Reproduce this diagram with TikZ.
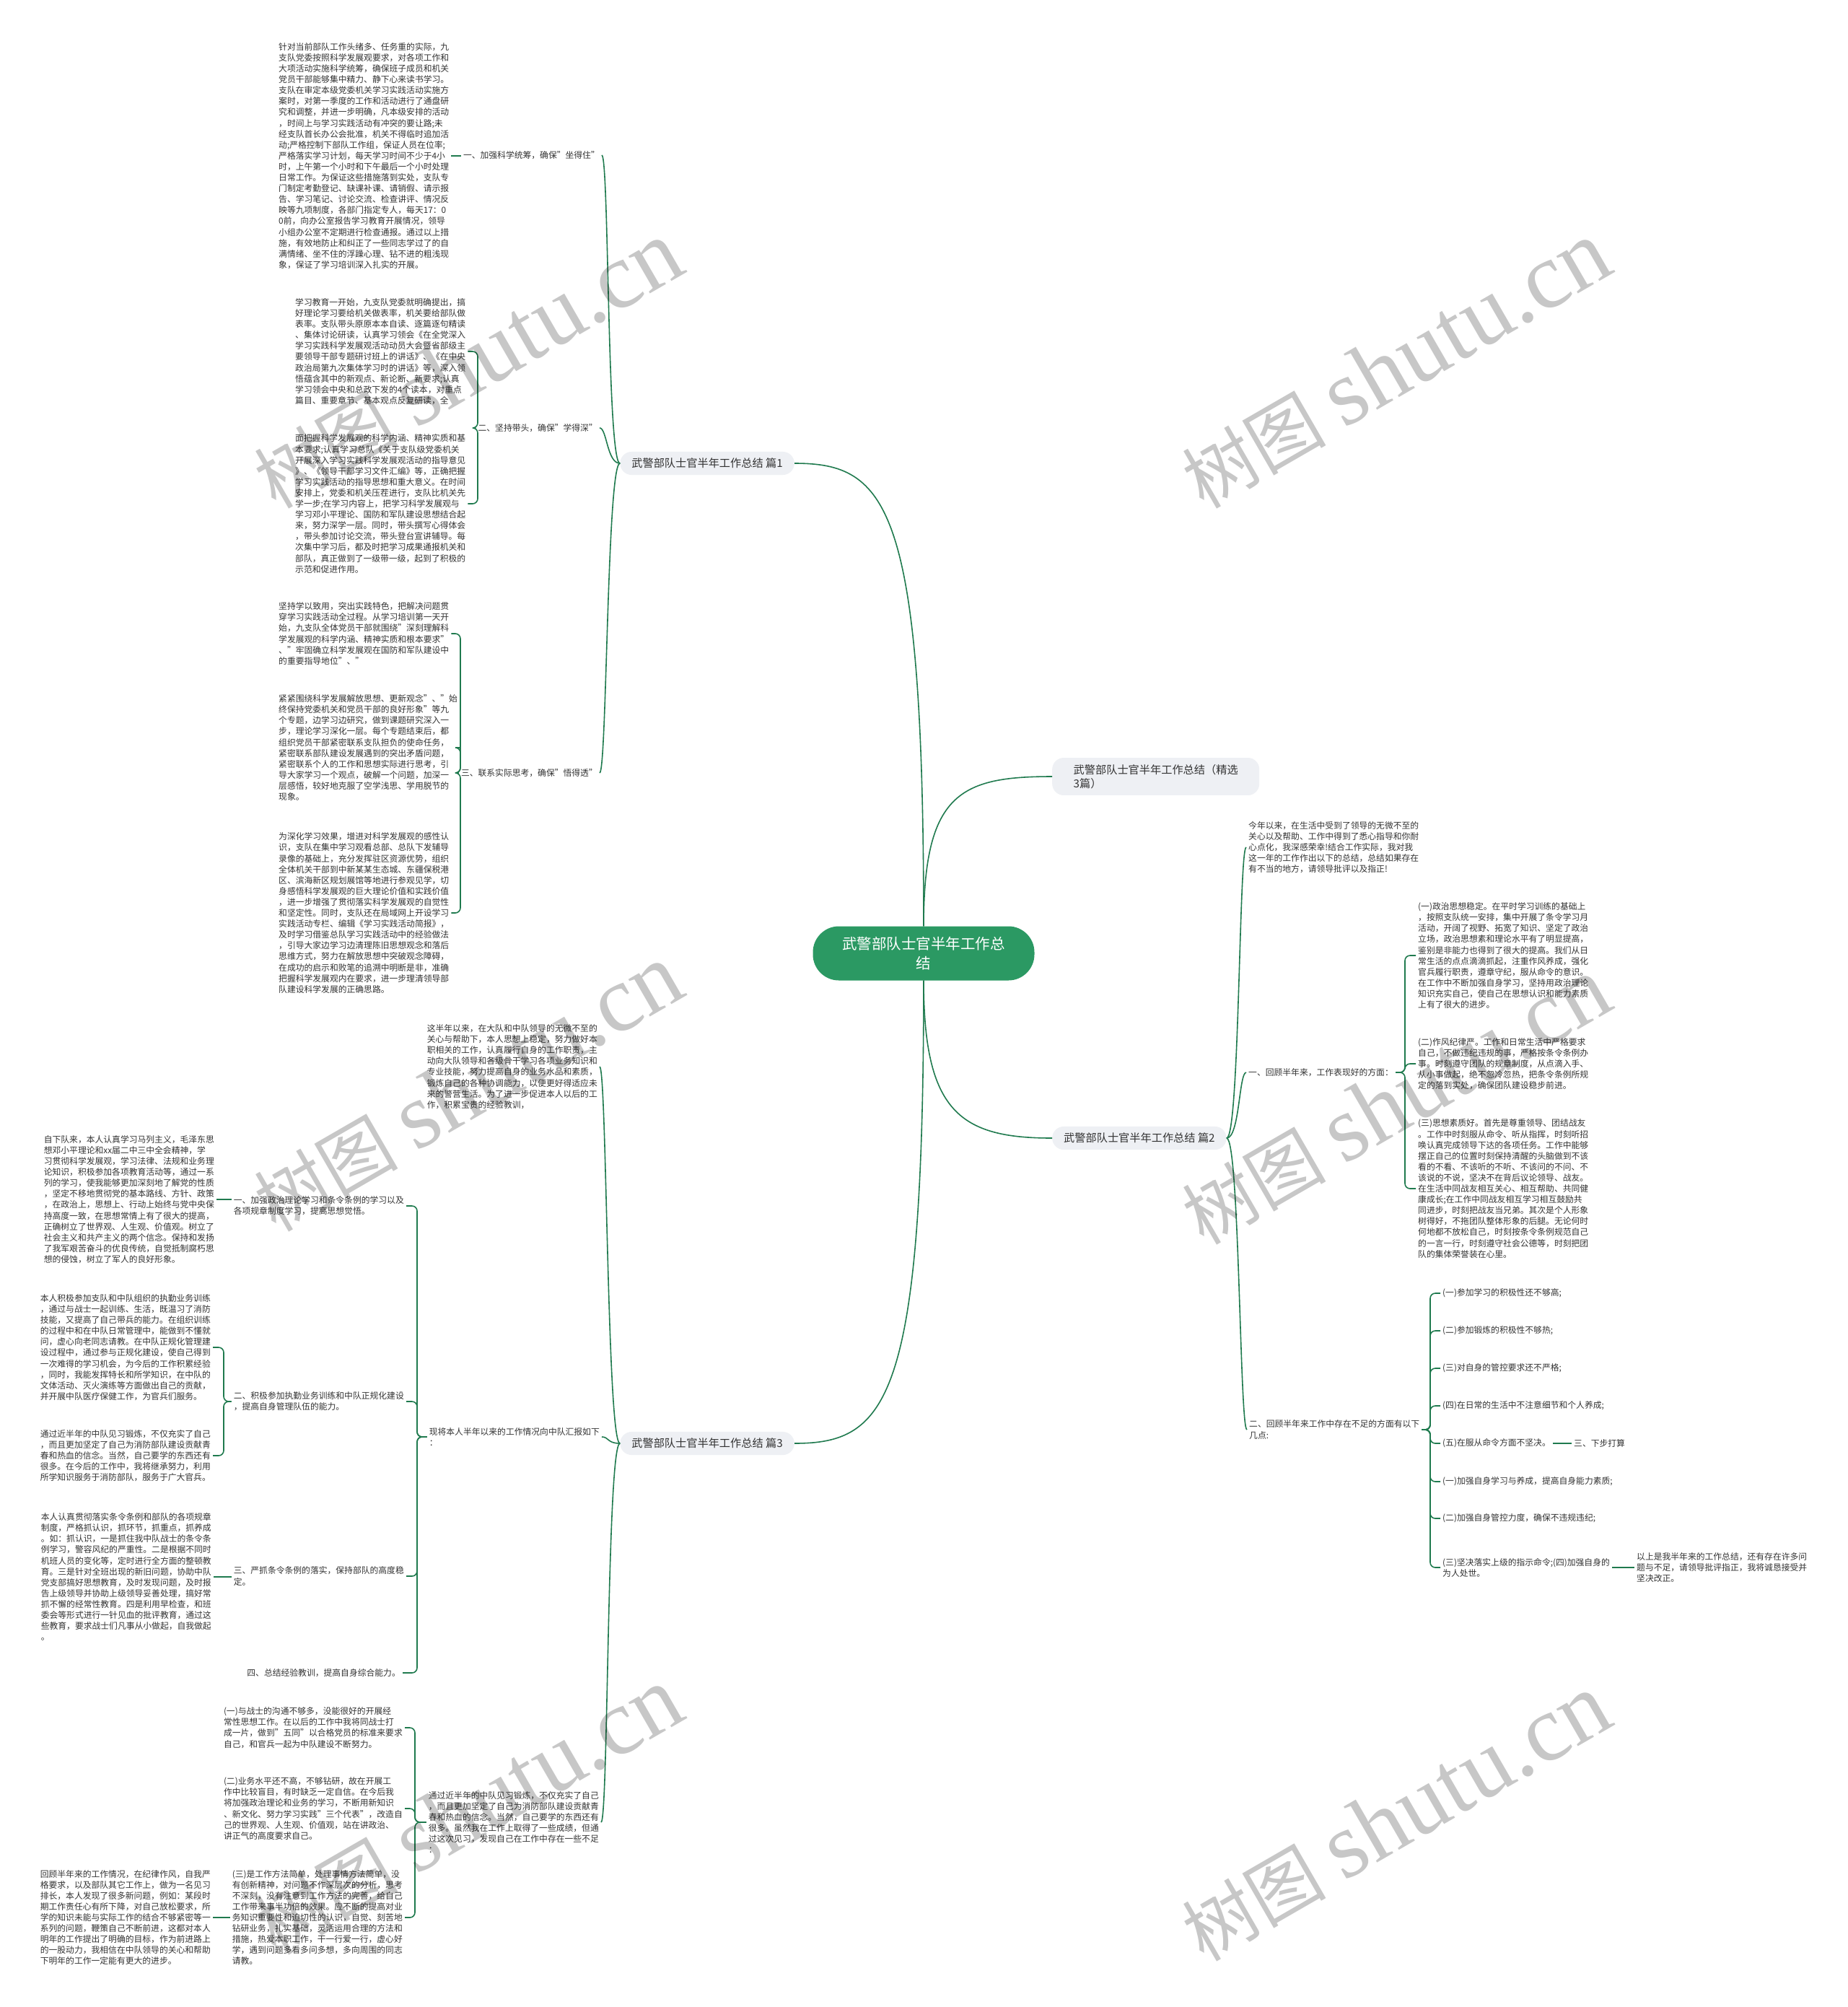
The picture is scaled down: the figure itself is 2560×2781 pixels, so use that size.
\documentclass[tikz,border=0pt]{standalone}
\usepackage{fontspec}
\setmainfont{Noto Sans CJK SC}
\newfontfamily\wmlatin{Liberation Serif}
\definecolor{lc}{HTML}{1F7A4E}
\definecolor{rootg}{HTML}{2B9963}
\definecolor{bfill}{HTML}{EEF0F4}
\definecolor{tc}{HTML}{333333}
\tikzset{
 txt/.style={inner sep=3pt, align=left, text=tc, font=\fontsize{11.8}{15.1}\selectfont},
 branch/.style={fill=bfill, rounded corners=16pt, inner xsep=16pt, inner ysep=9pt, align=left, text=tc, font=\fontsize{15.2}{19.5}\selectfont},
 rootnode/.style={fill=rootg, text=white, rounded corners=36pt, minimum width=307pt, minimum height=75pt, align=center, font=\fontsize{20.5}{27}\selectfont},
 conn/.style={draw=lc, line width=1.6pt},
 brk/.style={conn, rounded corners=7pt},
 wm/.style={rotate=30, text=black, text opacity=0.22, inner sep=0pt}
}
\newcommand{\wmtext}{{\fontsize{100}{100}\selectfont 树图}\hspace{24pt}{\wmlatin\fontsize{130}{130}\selectfont shutu.cn}}
\begin{document}
\begin{tikzpicture}[x=1pt,y=-1pt]
\fill[white] (0,0) rectangle (2560,2781);
\useasboundingbox (0,0) rectangle (2560,2781);

% root and main branches
\node[rootnode] (root) at (1280,1321) {武警部队士官半年工作总\\结};
\node[branch, anchor=west, minimum width=287pt] (jx) at (1458,1076) {武警部队士官半年工作总结（精选\\3篇）};
\node[branch, anchor=west] (p2) at (1458,1577) {武警部队士官半年工作总结 篇2};
\node[branch, anchor=east] (p1) at (1101,642) {武警部队士官半年工作总结 篇1};
\node[branch, anchor=east] (p3) at (1101,2000) {武警部队士官半年工作总结 篇3};

\draw[conn] (root.north) .. controls (1280,1100) and (1330,1076) .. (jx.west);
\draw[conn] (root.south) .. controls (1280,1540) and (1330,1577) .. (p2.west);
\draw[conn] (root.north) .. controls (1280,700) and (1230,642) .. (p1.east);
\draw[conn] (root.south) .. controls (1280,1940) and (1230,2000) .. (p3.east);

% ---------- 篇1 ----------
\node[txt, anchor=west] (a1) at (383,216) {针对当前部队工作头绪多、任务重的实际，九\\支队党委按照科学发展观要求，对各项工作和\\大项活动实施科学统筹，确保班子成员和机关\\党员干部能够集中精力、静下心来读书学习。\\支队在审定本级党委机关学习实践活动实施方\\案时，对第一季度的工作和活动进行了通盘研\\究和调整，并进一步明确，凡本级安排的活动\\，时间上与学习实践活动有冲突的要让路;未\\经支队首长办公会批准，机关不得临时追加活\\动;严格控制下部队工作组，保证人员在位率;\\严格落实学习计划，每天学习时间不少于4小\\时，上午第一个小时和下午最后一个小时处理\\日常工作。为保证这些措施落到实处，支队专\\门制定考勤登记、缺课补课、请销假、请示报\\告、学习笔记、讨论交流、检查讲评、情况反\\映等九项制度，各部门指定专人，每天17：0\\0前，向办公室报告学习教育开展情况，领导\\小组办公室不定期进行检查通报。通过以上措\\施，有效地防止和纠正了一些同志学过了的自\\满情绪、坐不住的浮躁心理、钻不进的粗浅现\\象，保证了学习培训深入扎实的开展。};
\node[txt, anchor=east] (l1) at (834,215) {一、加强科学统筹，确保"坐得住"};

\node[txt, anchor=west] (a2a) at (406,487) {学习教育一开始，九支队党委就明确提出，搞\\好理论学习要给机关做表率，机关要给部队做\\表率。支队带头原原本本自读、逐篇逐句精读\\、集体讨论研读，认真学习领会《在全党深入\\学习实践科学发展观活动动员大会暨省部级主\\要领导干部专题研讨班上的讲话》、《在中央\\政治局第九次集体学习时的讲话》等，深入领\\悟蕴含其中的新观点、新论断、新要求;认真\\学习领会中央和总政下发的4个读本，对重点\\篇目、重要章节、基本观点反复研读，全};
\node[txt, anchor=west] (a2b) at (406,698) {面把握科学发展观的科学内涵、精神实质和基\\本要求;认真学习总队《关于支队级党委机关\\开展深入学习实践科学发展观活动的指导意见\\》、《领导干部学习文件汇编》等，正确把握\\学习实践活动的指导思想和重大意义。在时间\\安排上，党委和机关压茬进行，支队比机关先\\学一步;在学习内容上，把学习科学发展观与\\学习邓小平理论、国防和军队建设思想结合起\\来，努力深学一层。同时，带头撰写心得体会\\，带头参加讨论交流，带头登台宣讲辅导。每\\次集中学习后，都及时把学习成果通报机关和\\部队，真正做到了一级带一级，起到了积极的\\示范和促进作用。};
\node[txt, anchor=east] (l2) at (831,593) {二、坚持带头，确保"学得深"};

\node[txt, anchor=west] (a3a) at (383,878) {坚持学以致用，突出实践特色，把解决问题贯\\穿学习实践活动全过程。从学习培训第一天开\\始，九支队全体党员干部就围绕"深刻理解科\\学发展观的科学内涵、精神实质和根本要求"\\、"牢固确立科学发展观在国防和军队建设中\\的重要指导地位"、"};
\node[txt, anchor=west] (a3b) at (383,1036) {紧紧围绕科学发展解放思想、更新观念"、"始\\终保持党委机关和党员干部的良好形象"等九\\个专题，边学习边研究，做到课题研究深入一\\步，理论学习深化一层。每个专题结束后，都\\组织党员干部紧密联系支队担负的使命任务，\\紧密联系部队建设发展遇到的突出矛盾问题，\\紧密联系个人的工作和思想实际进行思考，引\\导大家学习一个观点，破解一个问题，加深一\\层感悟，较好地克服了空学浅思、学用脱节的\\现象。};
\node[txt, anchor=west] (a3c) at (383,1265) {为深化学习效果，增进对科学发展观的感性认\\识，支队在集中学习观看总部、总队下发辅导\\录像的基础上，充分发挥驻区资源优势，组织\\全体机关干部到中新某某生态城、东疆保税港\\区、滨海新区规划展馆等地进行参观见学，切\\身感悟科学发展观的巨大理论价值和实践价值\\，进一步增强了贯彻落实科学发展观的自觉性\\和坚定性。同时，支队还在局域网上开设学习\\实践活动专栏、编辑《学习实践活动简报》，\\及时学习借鉴总队学习实践活动中的经验做法\\，引导大家边学习边清理陈旧思想观念和落后\\思维方式，努力在解放思想中突破观念障碍，\\在成功的启示和败笔的追溯中明断是非，准确\\把握科学发展观内在要求，进一步理清领导部\\队建设科学发展的正确思路。};
\node[txt, anchor=east] (l3) at (831,1071) {三、联系实际思考，确保"悟得透"};

\foreach \t in {l1,l2,l3} \draw[conn] (p1.west) .. controls +(-18,0) and +(10,0) .. (\t.east);
\draw[conn] (a1.east) -- (a1.east -| l1.west);
\coordinate (s1) at (662,0);
\foreach \t in {a2a,a2b} \draw[brk] (l2.west) -- (l2.west -| s1) |- (\t.east);
\coordinate (s2) at (638,0);
\foreach \t in {a3a,a3b,a3c} \draw[brk] (l3.west) -- (l3.west -| s2) |- (\t.east);

% ---------- 篇2 ----------
\node[txt, anchor=west] (r0) at (1727,1174) {今年以来，在生活中受到了领导的无微不至的\\关心以及帮助、工作中得到了悉心指导和你耐\\心点化，我深感荣幸!结合工作实际，我对我\\这一年的工作作出以下的总结，总结如果存在\\有不当的地方，请领导批评以及指正!};
\node[txt, anchor=west] (r1) at (1727,1486) {一、回顾半年来，工作表现好的方面：};
\node[txt, anchor=west] (r2) at (1728,1981) {二、回顾半年来工作中存在不足的方面有以下\\几点:};
\foreach \t in {r0,r1,r2} \draw[conn] (p2.east) .. controls +(18,0) and +(-10,0) .. (\t.west);

\node[txt, anchor=west] (r1a) at (1962,1324) {(一)政治思想稳定。在平时学习训练的基础上\\，按照支队统一安排，集中开展了条令学习月\\活动，开阔了视野、拓宽了知识、坚定了政治\\立场，政治思想素和理论水平有了明显提高，\\鉴别是非能力也得到了很大的提高。我们从日\\常生活的点点滴滴抓起，注重作风养成，强化\\官兵履行职责，遵章守纪，服从命令的意识。\\在工作中不断加强自身学习，坚持用政治理论\\知识充实自己，使自己在思想认识和能力素质\\上有了很大的进步。};
\node[txt, anchor=west] (r1b) at (1962,1474) {(二)作风纪律严。工作和日常生活中严格要求\\自己，不做违纪违规的事，严格按条令条例办\\事。时刻遵守团队的规章制度，从点滴入手、\\从小事做起，绝不忽冷忽热，把条令条例所规\\定的落到实处，确保团队建设稳步前进。};
\node[txt, anchor=west] (r1c) at (1962,1647) {(三)思想素质好。首先是尊重领导、团结战友\\。工作中时刻服从命令、听从指挥，时刻听招\\唤认真完成领导下达的各项任务。工作中能够\\摆正自己的位置时刻保持清醒的头脑做到不该\\看的不看、不该听的不听、不该问的不问、不\\该说的不说，坚决不在背后议论领导、战友。\\在生活中同战友相互关心、相互帮助、共同健\\康成长;在工作中同战友相互学习相互鼓励共\\同进步，时刻把战友当兄弟。其次是个人形象\\树得好，不拖团队整体形象的后腿。无论何时\\何地都不放松自己，时刻按条令条例规范自己\\的一言一行，时刻遵守社会公德等，时刻把团\\队的集体荣誉装在心里。};
\coordinate (s3) at (1947,0);
\foreach \t in {r1a,r1b,r1c} \draw[brk] (r1.east) -- (r1.east -| s3) |- (\t.west);

\node[txt, anchor=west] (r2a) at (1996,1792) {(一)参加学习的积极性还不够高;};
\node[txt, anchor=west] (r2b) at (1996,1844) {(二)参加锻炼的积极性不够热;};
\node[txt, anchor=west] (r2c) at (1996,1896) {(三)对自身的管控要求还不严格;};
\node[txt, anchor=west] (r2d) at (1996,1948) {(四)在日常的生活中不注意细节和个人养成;};
\node[txt, anchor=west] (r2e) at (1996,2000) {(五)在服从命令方面不坚决。};
\node[txt, anchor=west] (r2f) at (1996,2053) {(一)加强自身学习与养成，提高自身能力素质;};
\node[txt, anchor=west] (r2g) at (1996,2104) {(二)加强自身管控力度，确保不违规违纪;};
\node[txt, anchor=west] (r2h) at (1996,2172) {(三)坚决落实上级的指示命令;(四)加强自身的\\为人处世。};
\coordinate (s4) at (1982,0);
\foreach \t in {r2a,r2b,r2c,r2d,r2e,r2f,r2g,r2h} \draw[brk] (r2.east) -- (r2.east -| s4) |- (\t.west);
\node[txt, anchor=west] (r2e2) at (2178,2000) {三、下步打算};
\draw[conn] (r2e.east) -- (r2e.east -| r2e2.west);
\node[txt, anchor=west] (r2h2) at (2265,2172) {以上是我半年来的工作总结，还有存在许多问\\题与不足，请领导批评指正，我将诚恳接受并\\坚决改正。};
\draw[conn] (r2h.east) -- (r2h.east -| r2h2.west);

% ---------- 篇3 ----------
\node[txt, anchor=east] (b0) at (831,1478) {这半年以来，在大队和中队领导的无微不至的\\关心与帮助下，本人思想上稳定，努力做好本\\职相关的工作，认真履行自身的工作职责，主\\动向大队领导和各级骨干学习各项业务知识和\\专业技能，努力提高自身的业务水品和素质，\\锻炼自己的各种协调能力，以便更好得适应未\\来的警营生活。为了进一步促进本人以后的工\\作，积累宝贵的经验教训，};
\node[txt, anchor=east] (b1) at (834,1991) {现将本人半年以来的工作情况向中队汇报如下\\：};
\node[txt, anchor=east] (b2) at (833,2525) {通过近半年的中队见习锻炼，不仅充实了自己\\，而且更加坚定了自己为消防部队建设贡献青\\春和热血的信念。当然，自己要学的东西还有\\很多。虽然我在工作上取得了一些成绩，但通\\过这次见习，发现自己在工作中存在一些不足\\：};
\foreach \t in {b0,b1,b2} \draw[conn] (p3.west) .. controls +(-18,0) and +(10,0) .. (\t.east);

\node[txt, anchor=east] (b1a) at (563,1671) {一、加强政治理论学习和条令条例的学习以及\\各项规章制度学习，提高思想觉悟。};
\node[txt, anchor=east] (b1b) at (563,1942) {二、积极参加执勤业务训练和中队正规化建设\\，提高自身管理队伍的能力。};
\node[txt, anchor=east] (b1c) at (563,2184) {三、严抓条令条例的落实，保持部队的高度稳\\定。};
\node[txt, anchor=east] (b1d) at (558,2318) {四、总结经验教训，提高自身综合能力。};
\coordinate (s5) at (578,0);
\foreach \t in {b1a,b1b,b1c,b1d} \draw[brk] (b1.west) -- (b1.west -| s5) |- (\t.east);

\node[txt, anchor=east] (b1a1) at (300,1662) {自下队来，本人认真学习马列主义，毛泽东思\\想邓小平理论和xx届二中三中全会精神，学\\习贯彻科学发展观，学习法律、法规和业务理\\论知识，积极参加各项教育活动等，通过一系\\列的学习，使我能够更加深刻地了解党的性质\\，坚定不移地贯彻党的基本路线、方针、政策\\，在政治上，思想上、行动上始终与党中央保\\持高度一致，在思想常情上有了很大的提高，\\正确树立了世界观、人生观、价值观。树立了\\社会主义和共产主义的两个信念。保持和发扬\\了我军艰苦奋斗的优良传统，自觉抵制腐朽思\\想的侵蚀，树立了军人的良好形象。};
\draw[conn] (b1a1.east) -- (b1a1.east -| b1a.west);

\node[txt, anchor=east] (b1b1) at (295,1867) {本人积极参加支队和中队组织的执勤业务训练\\，通过与战士一起训练、生活，既温习了消防\\技能，又提高了自己带兵的能力。在组织训练\\的过程中和在中队日常管理中，能做到不懂就\\问，虚心向老同志请教。在中队正规化管理建\\设过程中，通过参与正规化建设，使自己得到\\一次难得的学习机会，为今后的工作积累经验\\，同时，我能发挥特长和所学知识，在中队的\\文体活动、灭火演练等方面做出自己的贡献，\\并开展中队医疗保健工作，为官兵们服务。};
\node[txt, anchor=east] (b1b2) at (295,2017) {通过近半年的中队见习锻炼，不仅充实了自己\\，而且更加坚定了自己为消防部队建设贡献青\\春和热血的信念。当然，自己要学的东西还有\\很多。在今后的工作中，我将继承努力，利用\\所学知识服务于消防部队，服务于广大官兵。};
\coordinate (s6) at (310,0);
\foreach \t in {b1b1,b1b2} \draw[brk] (b1b.west) -- (b1b.west -| s6) |- (\t.east);

\node[txt, anchor=east] (b1c1) at (296,2185) {本人认真贯彻落实条令条例和部队的各项规章\\制度，严格抓认识，抓环节，抓重点，抓养成\\。如：抓认识，一是抓住我中队战士的条令条\\例学习，警容风纪的严重性。二是根据不同时\\机班人员的变化等，定时进行全方面的整顿教\\育。三是针对全班出现的新旧问题，协助中队\\党支部搞好思想教育，及时发现问题，及时报\\告上级领导并协助上级领导妥善处理，搞好常\\抓不懈的经常性教育。四是利用早检查，和班\\委会等形式进行一针见血的批评教育，通过这\\些教育，要求战士们凡事从小做起，自我做起\\。};
\draw[conn] (b1c1.east) -- (b1c1.east -| b1c.west);

\node[txt, anchor=east] (b2a) at (561,2394) {(一)与战士的沟通不够多，没能很好的开展经\\常性思想工作。在以后的工作中我将同战士打\\成一片，做到"五同"以合格党员的标准来要求\\自己，和官兵一起为中队建设不断努力。};
\node[txt, anchor=east] (b2b) at (561,2506) {(二)业务水平还不高，不够钻研，故在开展工\\作中比较盲目，有时缺乏一定自信。在今后我\\将加强政治理论和业务的学习，不断用新知识\\、新文化、努力学习实践"三个代表"，改造自\\己的世界观、人生观、价值观，站在讲政治、\\讲正气的高度要求自己。};
\node[txt, anchor=east] (b2c) at (561,2657) {(三)是工作方法简单，处理事情方法简单，没\\有创新精神，对问题不作深层次的分析，思考\\不深刻，没有注意到工作方法的完善，给自己\\工作带来事半功倍的效果。应不断的提高对业\\务知识重要性和迫切性的认识，自觉、刻苦地\\钻研业务，扎实基础，灵活运用合理的方法和\\措施，热爱本职工作，干一行爱一行，虚心好\\学，遇到问题多看多问多想，多向周围的同志\\请教。};
\coordinate (s7) at (575,0);
\foreach \t in {b2a,b2b,b2c} \draw[brk] (b2.west) -- (b2.west -| s7) |- (\t.east);

\node[txt, anchor=east] (b2c1) at (295,2657) {回顾半年来的工作情况，在纪律作风，自我严\\格要求，以及部队其它工作上，做为一名见习\\排长，本人发现了很多新问题，例如：某段时\\期工作责任心有所下降，对自己放松要求，所\\学的知识未能与实际工作的结合不够紧密等一\\系列的问题，鞭策自己不断前进，这都对本人\\明年的工作提出了明确的目标，作为前进路上\\的一股动力，我相信在中队领导的关心和帮助\\下明年的工作一定能有更大的进步。};
\draw[conn] (b2c1.east) -- (b2c1.east -| b2c.west);

% ---------- watermarks ----------
\node[wm] (w1) at (648,506) {\wmtext};
\node[wm] (w2) at (1934,506) {\wmtext};
\node[wm] (w3) at (648,1508) {\wmtext};
\node[wm] (w4) at (1934,1526) {\wmtext};
\node[wm] (w5) at (648,2510) {\wmtext};
\node[wm] (w6) at (1934,2519) {\wmtext};
\end{tikzpicture}
\end{document}
